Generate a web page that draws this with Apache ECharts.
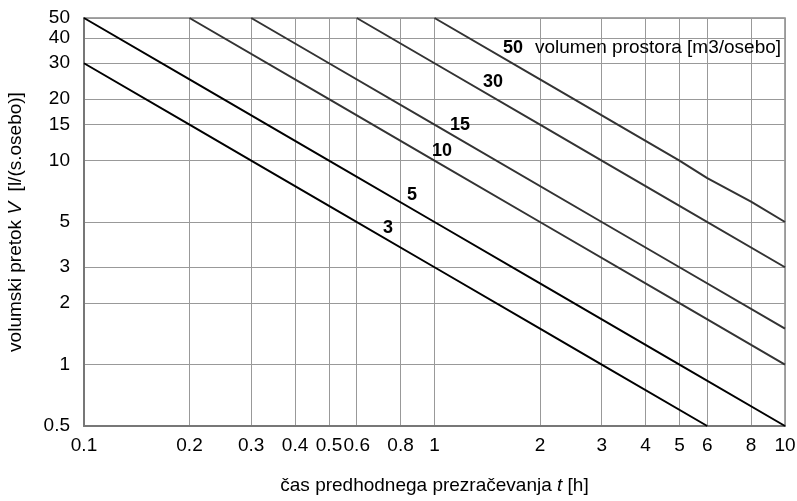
<!DOCTYPE html>
<html>
<head>
<meta charset="utf-8">
<script src="https://cdn.jsdelivr.net/npm/echarts@6/dist/echarts.min.js"></script>
<style>
  html, body { margin: 0; padding: 0; background: #fff; }
  #main { width: 797px; height: 501px; }
</style>
</head>
<body>
<div id="main"></div>
<script>
// tick values
var xTicks = [0.1, 0.2, 0.3, 0.4, 0.5, 0.6, 0.8, 1, 2, 3, 4, 5, 6, 8, 10];
var yTicks = [0.5, 1, 2, 3, 5, 10, 15, 20, 30, 40, 50];

// volumen prostora [m3/osebo] -> points [t, V]
var volumes = [3, 5, 10, 15, 30, 50];
var line3 = [[0.1, 30], [0.2, 15], [0.3, 10], [0.5, 6], [1, 3], [2, 1.5], [3, 1], [6, 0.5]];
var line5 = [[0.1, 50], [0.2, 25], [0.5, 10], [1, 5], [2, 2.5], [5, 1], [10, 0.5]];
var line10 = [[0.2, 50], [0.5, 20], [1, 10], [2, 5], [5, 2], [10, 1]];
var line15 = [[0.3, 50], [0.5, 30], [1, 15], [3, 5], [5, 3], [10, 1.5]];
var line30 = [[0.6, 50], [1, 30], [2, 15], [3, 10], [5, 6], [10, 3]];
var line50 = [[1, 50], [2, 25], [5, 10], [6, 8.2], [8, 6.3], [10, 5]];
var lines = [line3, line5, line10, line15, line30, line50];
var lineColors = ["#000", "#000", "#333", "#333", "#333", "#333"];

var FONT = "'Liberation Sans', Arial, sans-serif";
var myChart = echarts.init(document.getElementById("main"));

function fmt(v) {
  return String(+(+v).toPrecision(6));
}

var series = lines.map(function (d, i) {
  return {
    name: String(volumes[i]),
    type: "line",
    showSymbol: false,
    silent: true,
    data: d,
    lineStyle: { color: lineColors[i], width: 2 },
    z: 3
  };
});

// labels next to the lines
var notes = [
  { text: "50", x: 503, y: 48 },
  { text: "30", x: 483, y: 82 },
  { text: "15", x: 450, y: 125 },
  { text: "10", x: 432, y: 151 },
  { text: "5", x: 407, y: 195 },
  { text: "3", x: 383, y: 228 }
];
var graphic = notes.map(function (n) {
  return {
    type: "text",
    x: n.x,
    y: n.y,
    z: 10,
    style: {
      text: n.text,
      font: "bold 18px " + FONT,
      fill: "#000",
      textVerticalAlign: "middle"
    }
  };
});
graphic.push({
  type: "text",
  x: 535,
  y: 48,
  z: 10,
  style: {
    text: "volumen prostora [m3/osebo]",
    font: "19px " + FONT,
    fill: "#000",
    textVerticalAlign: "middle"
  }
});

myChart.setOption({
  animation: false,
  backgroundColor: "#fff",
  textStyle: { fontFamily: FONT },
  grid: {
    left: 84,
    right: 12,
    top: 18,
    bottom: 75,
    outerBoundsMode: "none",
    containLabel: false,
    show: true,
    borderColor: "#888",
    borderWidth: 1.5
  },
  xAxis: {
    type: "log",
    logBase: 10,
    min: 0.1,
    max: 10,
    name: "{a|čas predhodnega prezračevanja }{i|t}{a| [h]}",
    nameLocation: "middle",
    nameGap: 50,
    nameTextStyle: {
      rich: {
        a: { fontSize: 19, color: "#000", fontFamily: FONT },
        i: { fontSize: 19, color: "#000", fontFamily: FONT, fontStyle: "italic" }
      }
    },
    axisLine: { show: true, lineStyle: { color: "#777", width: 2 } },
    axisTick: { show: false, customValues: xTicks },
    axisLabel: {
      customValues: xTicks,
      color: "#000",
      fontSize: 19,
      margin: 10,
      showMinLabel: true,
      showMaxLabel: true,
      formatter: fmt
    },
    splitLine: { show: true, lineStyle: { color: "#999", width: 1 } }
  },
  yAxis: {
    type: "log",
    logBase: 10,
    min: 0.5,
    max: 50,
    name: "{a|volumski pretok }{i|V}{a|  [l/(s.osebo)]}",
    nameLocation: "middle",
    nameGap: 59,
    nameTextStyle: {
      rich: {
        a: { fontSize: 19, color: "#000", fontFamily: FONT },
        i: { fontSize: 19, color: "#000", fontFamily: FONT, fontStyle: "italic" }
      }
    },
    axisLine: { show: true, lineStyle: { color: "#777", width: 2 } },
    axisTick: { show: false, customValues: yTicks },
    axisLabel: {
      customValues: yTicks,
      color: "#000",
      fontSize: 19,
      margin: 14,
      showMinLabel: true,
      showMaxLabel: true,
      formatter: fmt
    },
    splitLine: { show: true, lineStyle: { color: "#999", width: 1 } }
  },
  graphic: graphic,
  series: series
});
</script>
</body>
</html>
